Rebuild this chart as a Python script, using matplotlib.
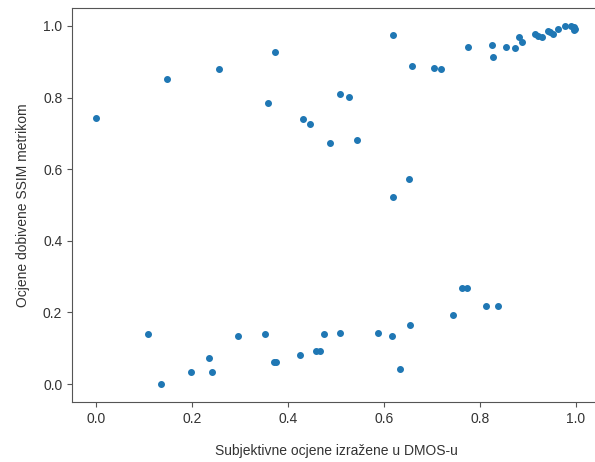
import numpy as np
import matplotlib
matplotlib.use('Agg')
import matplotlib.pyplot as plt

plt.rcParams['font.family'] = ['Liberation Sans', 'DejaVu Sans']

# DMOS (x) i SSIM (y), normalizirano
dmos = [0.000, 0.147, 0.256, 0.372, 0.359, 0.432, 0.446, 0.488, 0.508, 0.527,
        0.543, 0.618, 0.618, 0.652, 0.659, 0.705, 0.719, 0.776, 0.825, 0.827,
        0.855, 0.873, 0.882, 0.887, 0.915, 0.921, 0.929, 0.941, 0.946, 0.953,
        0.962, 0.977, 0.990, 0.996, 0.998, 0.996,
        0.109, 0.135, 0.198, 0.236, 0.242, 0.295, 0.352, 0.370, 0.374, 0.424,
        0.459, 0.467, 0.475, 0.508, 0.588, 0.616, 0.634, 0.654, 0.743, 0.762,
        0.772, 0.812, 0.837]
ssim = [0.743, 0.852, 0.879, 0.926, 0.785, 0.741, 0.725, 0.672, 0.810, 0.801,
        0.681, 0.974, 0.523, 0.573, 0.888, 0.882, 0.879, 0.941, 0.947, 0.912,
        0.940, 0.938, 0.969, 0.954, 0.978, 0.973, 0.968, 0.986, 0.983, 0.978,
        0.992, 1.000, 1.000, 0.997, 0.992, 0.988,
        0.139, 0.000, 0.033, 0.074, 0.033, 0.134, 0.139, 0.062, 0.062, 0.080,
        0.091, 0.091, 0.139, 0.142, 0.142, 0.134, 0.041, 0.166, 0.194, 0.268,
        0.268, 0.218, 0.218]

fig = plt.figure(figsize=(5.95, 4.62), dpi=100)
ax = fig.add_axes([72/595, 60/462, 528/595, 394/462])

ax.scatter(dmos, ssim, s=16, color='#1f77b4')
ax.set_xlim(-0.05, 1.05)
ax.set_ylim(-0.05, 1.05)
ax.set_xticks([0.0, 0.2, 0.4, 0.6, 0.8, 1.0])
ax.set_yticks([0.0, 0.2, 0.4, 0.6, 0.8, 1.0])

for s in ax.spines.values():
    s.set_color('#555555')
ax.tick_params(colors='#555555', labelcolor='#333333', labelsize=10)

ax.set_xlabel('Subjektivne ocjene izražene u DMOS-u', fontsize=10, color='#333333', labelpad=13)
ax.set_ylabel('Ocjene dobivene SSIM metrikom', fontsize=10, color='#333333', labelpad=9)

fig.savefig('out.png', dpi=100)
